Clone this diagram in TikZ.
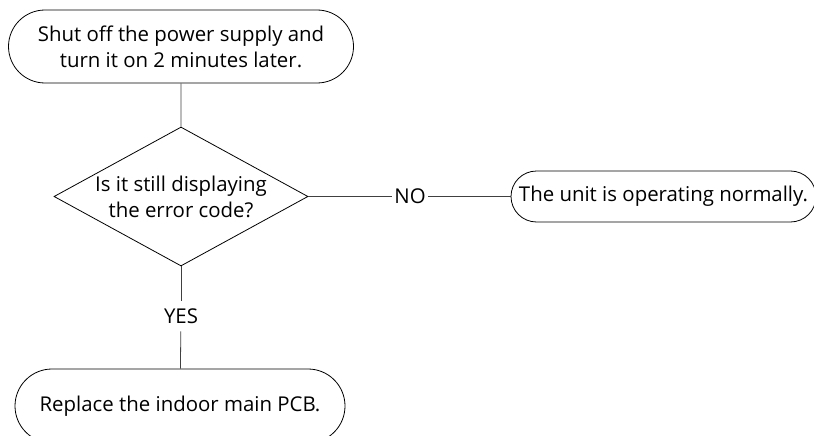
\documentclass[tikz,border=0pt]{standalone}
\usepackage{fontspec}
\setmainfont{Open Sans}
\usetikzlibrary{shapes.geometric,shapes.misc}
\tikzset{
  stepbox/.style={draw, rounded rectangle, inner sep=0pt, align=center},
  question/.style={draw, diamond, inner sep=0pt, aspect=1.83, align=center},
  link/.style={draw=black!75, line width=0.8pt},
  answer/.style={inner sep=2pt}
}
\begin{document}
\begin{tikzpicture}[x=1pt, y=-1pt, line width=0.8pt, font=\fontsize{20.4}{26}\selectfont]
      \useasboundingbox (0,0) rectangle (814,436);
      \node[stepbox, minimum width=345pt, minimum height=73pt] (power) at (181,46.5)
        {Shut off the power supply and\\turn it on 2 minutes later.};
      \node[question, minimum width=254pt, minimum height=139pt] (check) at (181,196.5)
        {Is it still displaying\\the error code?};
      \node[stepbox, minimum width=305pt, minimum height=51pt] (normal) at (663.5,196.5)
        {The unit is operating normally.};
      \node[stepbox, minimum width=330pt, minimum height=74pt] (pcb) at (180,406)
        {Replace the indoor main PCB.};
      \node[answer] (no) at (410,196.5) {NO};
      \node[answer, minimum height=30pt] (yes) at (181,316) {YES};
      \draw[link] (power) -- (check);
      \draw[link] (check.east) -- (no);
      \draw[link] (no) -- (normal);
      \draw[link] (check.south) -- (yes);
      \draw[link] (yes) -- (pcb);
    \end{tikzpicture}
\end{document}
